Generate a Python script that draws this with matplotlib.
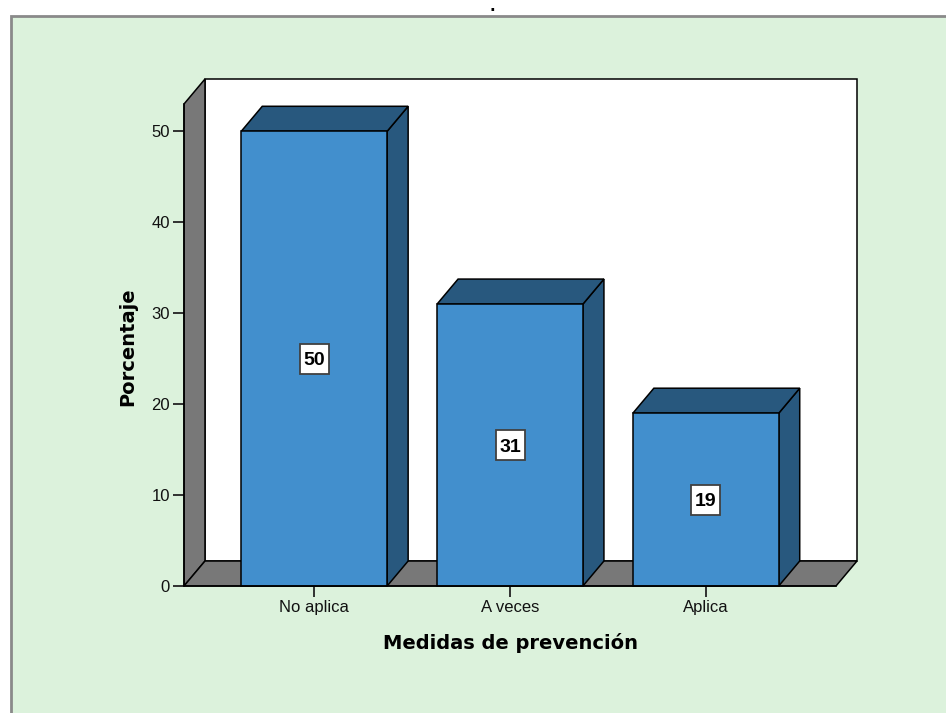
import matplotlib
matplotlib.use("Agg")
import matplotlib.pyplot as plt
from matplotlib.patches import Polygon, Rectangle
from matplotlib.transforms import ScaledTranslation

# Data
categories = ["No aplica", "A veces", "Aplica"]
percentages = [50, 31, 19]
y_ticks = [0, 10, 20, 30, 40, 50]

# Styling
BG_GREEN = "#dcf2dc"
BAR_FRONT = "#428fcd"
BAR_DARK = "#28587e"
WALL_GREY = "#787878"

W, H = 946, 713
fig = plt.figure(figsize=(W / 100, H / 100), dpi=100)
fig.patch.set_facecolor("white")

# Green chart panel with grey frame
panel = Rectangle((11 / W, -0.01), 1.0, 1 - 16 / H + 0.01, transform=fig.transFigure,
                  facecolor=BG_GREEN, edgecolor="#8a8a8a", linewidth=2, zorder=-5)
fig.patches.append(panel)
fig.text(492 / W, 1 - 11 / H, ".", ha="center", va="baseline", fontsize=11,
         fontweight="bold", color="black")

# Front plane of the 3D box
x0_px, x1_px, y0_px, ytop_px = 184, 836, 586, 104
ax = fig.add_axes([x0_px / W, 1 - y0_px / H, (x1_px - x0_px) / W, (y0_px - ytop_px) / H])
ax.set_facecolor("none")
xmin, xmax = 0.335, 3.665
ymin, ymax = 0, 53
ax.set_xlim(xmin, xmax)
ax.set_ylim(ymin, ymax)

# Depth offset (data units) for the pseudo-3D effect
px_per_x = (x1_px - x0_px) / (xmax - xmin)
px_per_y = (y0_px - ytop_px) / (ymax - ymin)
dx = 21 / px_per_x
dy = 25 / px_per_y

def poly(pts, fc, z):
    p = Polygon(pts, closed=True, facecolor=fc, edgecolor="black", linewidth=1.1,
                clip_on=False, zorder=z, joinstyle="miter")
    ax.add_patch(p)

# Back wall, left wall, floor
poly([(xmin + dx, ymin + dy), (xmax + dx, ymin + dy), (xmax + dx, ymax + dy), (xmin + dx, ymax + dy)], "white", 1)
poly([(xmin, ymin), (xmin, ymax), (xmin + dx, ymax + dy), (xmin + dx, ymin + dy)], WALL_GREY, 2)
poly([(xmin, ymin), (xmax, ymin), (xmax + dx, ymin + dy), (xmin + dx, ymin + dy)], WALL_GREY, 2)

# Bars with value labels in fixed-size white boxes
bw = 0.745
box_w, box_h = 0.29, 0.30  # inches
for i, (cat, val) in enumerate(zip(categories, percentages)):
    xc = i + 1
    l, r = xc - bw / 2, xc + bw / 2
    poly([(r, 0), (r + dx, dy), (r + dx, val + dy), (r, val)], BAR_DARK, 3)
    poly([(l, val), (r, val), (r + dx, val + dy), (l + dx, val + dy)], BAR_DARK, 3)
    poly([(l, 0), (r, 0), (r, val), (l, val)], BAR_FRONT, 4)
    tr = fig.dpi_scale_trans + ScaledTranslation(xc, val / 2, ax.transData)
    ax.add_patch(Rectangle((-box_w / 2, -box_h / 2), box_w, box_h, transform=tr,
                           facecolor="white", edgecolor="#404040", linewidth=1.3,
                           zorder=6, clip_on=False))
    ax.text(xc, val / 2, f"{val}", ha="center", va="center_baseline", fontsize=14,
            fontweight="bold", family="Liberation Sans", zorder=7)

# Axes, ticks and labels
for s in ["top", "right"]:
    ax.spines[s].set_visible(False)
ax.spines["left"].set_zorder(5)
ax.spines["bottom"].set_zorder(5)
ax.spines["left"].set_linewidth(1.1)
ax.spines["bottom"].set_linewidth(1.1)
ax.set_yticks(y_ticks)
ax.set_xticks(range(1, len(categories) + 1))
ax.set_xticklabels(categories)
ax.tick_params(axis="both", direction="out", length=8, width=1.3, color="#222222",
               labelsize=12, pad=2)
for lab in ax.get_xticklabels() + ax.get_yticklabels():
    lab.set_family("Liberation Sans")
    lab.set_color("#111111")

fig.text(510 / W, 1 - 643 / H, "Medidas de prevención", ha="center", va="center",
         fontsize=14, fontweight="bold", family="DejaVu Sans")
fig.text(128 / W, 1 - 347 / H, "Porcentaje", ha="center", va="center", rotation=90,
         fontsize=14, fontweight="bold", family="DejaVu Sans")

fig.savefig("out.png", dpi=100, facecolor=fig.get_facecolor())
